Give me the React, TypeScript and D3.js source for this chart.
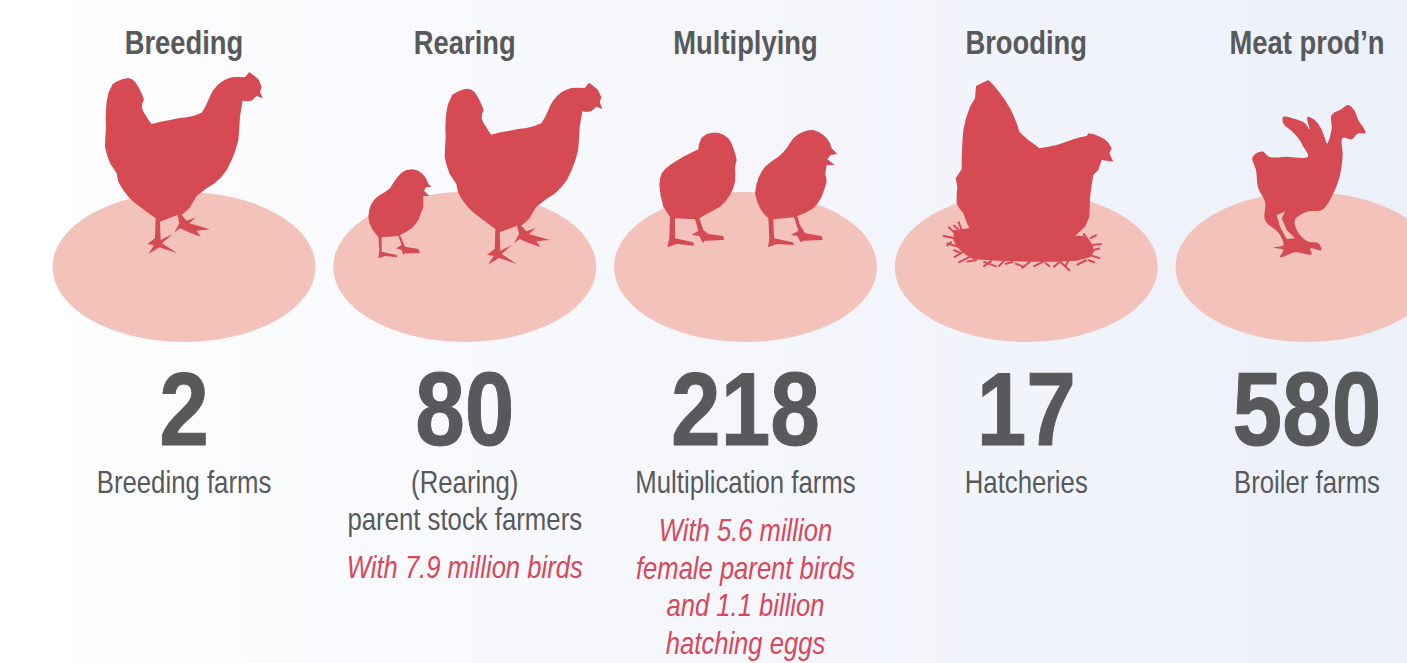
import * as d3 from 'd3';

type Pt = [number, number];

const stages = ['Breeding', 'Rearing', 'Multiplying', 'Brooding', 'Meat prod’n'];
const counts = ['2', '80', '218', '17', '580'];
const farmLabels = [
  ['Breeding farms'],
  ['(Rearing)', 'parent stock farmers'],
  ['Multiplication farms'],
  ['Hatcheries'],
  ['Broiler farms'],
];
const notes = [
  [],
  ['With 7.9 million birds'],
  ['With 5.6 million', 'female parent birds', 'and 1.1 billion', 'hatching eggs'],
  [],
  [],
];

// silhouettes, in 3x crop units
const hen: Pt[] = [[218,72],[228,66],[240,60],[252,56],[265,54],[276,58],[285,65],[293,77],[300,90],[307,105],[312,118],[307,130],[306,145],[312,158],[320,170],[327,182],[335,192],[362,185],[390,180],[415,175],[440,172],[462,167],[485,158],[496,140],[505,120],[512,104],[520,90],[532,76],[545,65],[560,57],[575,52],[595,51],[615,52],[628,36],[640,45],[655,58],[665,80],[660,95],[668,115],[650,108],[635,122],[620,124],[608,122],[604,145],[600,170],[598,205],[595,240],[586,272],[575,300],[562,327],[545,350],[524,370],[500,385],[470,408],[458,428],[448,445],[425,465],[440,482],[468,472],[448,490],[510,508],[470,512],[482,530],[445,516],[420,505],[403,518],[418,490],[412,465],[360,485],[362,540],[398,522],[366,550],[412,580],[358,562],[325,582],[342,556],[322,552],[345,535],[347,475],[322,457],[300,440],[280,425],[265,410],[248,388],[235,365],[230,340],[210,310],[201,285],[195,260],[196,230],[198,200],[197,175],[198,150],[200,125],[205,100],[212,85]];
const chickOpen: Pt[] = [[345,250],[349,225],[355,205],[364,186],[375,170],[395,154],[415,140],[428,128],[440,115],[450,99],[460,85],[475,73],[490,65],[505,61],[520,60],[536,66],[550,75],[562,87],[570,100],[575,115],[592,132],[572,135],[562,148],[584,165],[560,165],[556,190],[560,215],[553,238],[545,260],[534,279],[520,295],[497,308],[472,318],[480,345],[495,370],[545,378],[548,390],[490,392],[482,397],[472,378],[452,375],[475,362],[462,322],[400,328],[402,385],[458,397],[462,405],[410,402],[384,412],[388,385],[385,325],[372,312],[360,295],[351,274]];
const chickBack: Pt[] = [[58,225],[60,206],[65,190],[76,177],[90,165],[110,152],[130,140],[152,129],[175,118],[177,103],[184,84],[200,72],[217,68],[235,68],[252,75],[265,85],[274,99],[280,115],[286,132],[290,150],[285,170],[286,192],[285,215],[279,236],[270,255],[257,274],[240,290],[210,307],[178,325],[190,360],[205,372],[250,378],[252,390],[195,392],[188,398],[178,378],[155,375],[175,362],[165,328],[105,325],[105,385],[160,397],[162,407],[110,402],[82,412],[88,385],[90,320],[80,306],[70,290],[62,258]];
const chickSmall: Pt[] = [[85,440],[88,418],[95,400],[104,388],[115,378],[135,366],[150,355],[162,335],[175,318],[187,306],[200,300],[218,298],[235,302],[248,312],[258,325],[265,342],[275,350],[258,352],[252,362],[268,378],[250,378],[250,410],[243,430],[235,450],[226,463],[215,475],[198,486],[180,495],[195,530],[235,537],[240,550],[195,550],[190,555],[185,540],[168,535],[185,525],[175,498],[125,502],[125,545],[170,555],[172,562],[135,558],[115,565],[118,540],[115,500],[104,488],[95,475],[88,458]];
const broody: Pt[] = [[138,48],[155,40],[175,30],[185,40],[195,50],[210,70],[225,90],[238,112],[250,135],[260,160],[268,185],[278,195],[295,210],[312,222],[328,235],[355,230],[380,225],[405,217],[430,208],[450,202],[470,198],[475,190],[492,193],[510,200],[524,208],[535,218],[545,235],[538,250],[550,275],[515,270],[505,300],[490,315],[485,345],[480,380],[479,410],[478,440],[465,470],[435,498],[460,497],[478,510],[488,525],[492,545],[480,562],[440,572],[380,575],[300,575],[200,572],[130,568],[108,555],[90,540],[78,525],[70,510],[72,480],[118,475],[108,452],[100,430],[88,415],[80,400],[80,375],[82,350],[77,325],[95,298],[95,260],[97,220],[100,180],[108,145],[120,110],[135,85]];
const straws: [Pt, Pt][] = [[[38,497],[75,505]],[[55,470],[80,495]],[[70,465],[85,478]],[[85,455],[95,480]],[[50,520],[85,530]],[[65,515],[50,528]],[[70,540],[95,550]],[[72,562],[100,545]],[[85,578],[120,560]],[[110,575],[140,570]],[[160,575],[200,590]],[[160,590],[185,572]],[[205,590],[225,570]],[[225,582],[250,575]],[[255,580],[280,590]],[[275,595],[300,575]],[[310,590],[345,572]],[[345,578],[360,590]],[[370,592],[395,570]],[[390,575],[420,602]],[[415,572],[405,590]],[[440,585],[470,570]],[[475,570],[495,578]],[[480,555],[510,565]],[[490,540],[510,535]],[[485,525],[515,522]],[[480,505],[500,495]],[[460,490],[475,510]]];
const broiler: Pt[] = [[68,185],[100,170],[112,182],[170,185],[235,182],[220,155],[205,130],[185,108],[160,85],[158,68],[195,72],[225,85],[238,103],[233,65],[250,72],[270,95],[283,125],[290,145],[305,100],[305,60],[335,42],[355,30],[370,42],[385,75],[405,115],[385,115],[365,133],[340,128],[338,180],[330,240],[310,295],[275,345],[230,350],[195,375],[210,420],[235,440],[265,445],[275,465],[240,462],[245,475],[195,472],[150,485],[160,465],[130,458],[160,450],[150,420],[105,375],[105,320],[85,280],[78,225]];
const broilerGap: Pt[] = [[150,395],[170,432],[195,430],[170,405],[155,370],[165,350],[140,360]];

const width = 1407;
const height = 663;
const textColor = '#58595b';
const noteColor = '#d8475a';
const birdColor = '#d64a54';
const font = '"Liberation Sans", sans-serif';

const x = d3.scalePoint<string>().domain(stages).range([184, 1307]);
const outline = d3.line().curve(d3.curveLinearClosed);
const smooth = d3.line().curve(d3.curveCatmullRomClosed.alpha(1));

const Bird = ({ d, ox, oy }: { d: string; ox: number; oy: number }) => (
  <path d={d} fill={birdColor} transform={`translate(${ox},${oy}) scale(${1 / 3})`} />
);

export default function App() {
  return (
    <svg
      width={width}
      height={height}
      viewBox={`0 0 ${width} ${height}`}
      style={{ position: 'fixed', left: 0, top: 0, display: 'block' }}
      fontFamily={font}
    >
      <defs>
        <linearGradient id="bg" x1="0" y1="0" x2="1" y2="0">
          <stop offset="0%" stopColor="#fdfdfe" />
          <stop offset="100%" stopColor="#ecf0f9" />
        </linearGradient>
      </defs>
      <rect width={width} height={height} fill="#fff" />
      <rect x={70} width={width - 70} height={height} fill="url(#bg)" />

      {stages.map(s => (
        <ellipse key={s} cx={x(s)} cy={267} rx={131.5} ry={75} fill="#f3c3bb" />
      ))}

      <Bird d={outline(hen)!} ox={40} oy={60} />
      <Bird d={outline(hen)!} ox={379.7} oy={70.7} />
      <Bird d={outline(chickSmall)!} ox={340} oy={70} />
      <Bird d={outline(chickBack)!} ox={640} oy={110} />
      <Bird d={outline(chickOpen)!} ox={640} oy={110} />
      <Bird d={outline(broody)!} ox={930} oy={70} />
      <g transform={`translate(930,70) scale(${1 / 3})`} stroke={birdColor} strokeWidth={6}>
        {straws.map(([a, b], i) => (
          <line key={i} x1={a[0]} y1={a[1]} x2={b[0]} y2={b[1]} />
        ))}
      </g>
      <Bird d={smooth(broiler)! + outline(broilerGap)!} ox={1230} oy={95} />

      {stages.map((s, i) => {
        const cx = x(s)!;
        const lines = farmLabels[i];
        const noteTop = lines.length > 1 ? 578 : 541;
        return (
          <g key={s} textAnchor="middle">
            <text transform={`translate(${cx},54) scale(0.805,1)`} fontSize={34} fontWeight={700} fill={textColor}>{s}</text>
            <text transform={`translate(${cx},445) scale(0.866,1)`} fontSize={103} fontWeight={700} fill={textColor} stroke={textColor} strokeWidth={1}>{counts[i]}</text>
            {lines.map((l, j) => (
              <text key={l} transform={`translate(${cx},${493 + j * 37}) scale(0.805,1)`} fontSize={32} fill={textColor}>{l}</text>
            ))}
            {notes[i].map((n, j) => (
              <text key={n} transform={`translate(${cx},${noteTop + j * 37.5}) scale(0.8,1)`} fontSize={32} fontStyle="italic" fill={noteColor}>{n}</text>
            ))}
          </g>
        );
      })}
    </svg>
  );
}
